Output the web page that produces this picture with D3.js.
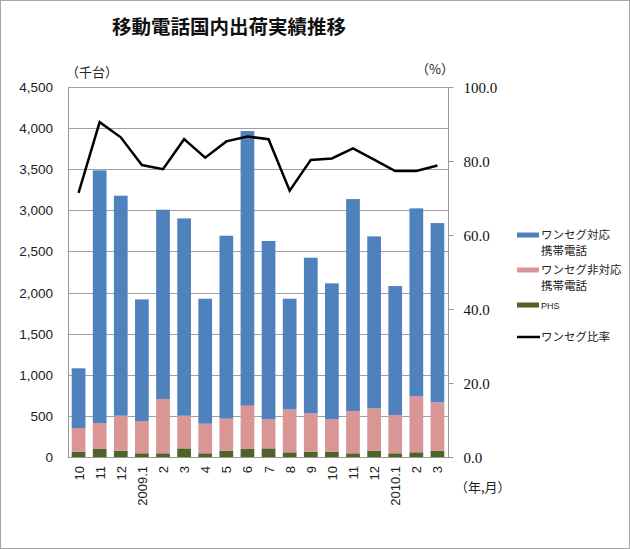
<!DOCTYPE html>
<html><head><meta charset="utf-8">
<script src="https://cdn.jsdelivr.net/npm/d3@7"></script>
<style>body{margin:0;background:#fff}svg{display:block}</style>
</head><body>
<svg id="c" width="630" height="549"></svg>
<script>
const categories = ["10","11","12","2009.1","2","3","4","5","6","7","8","9","10","11","12","2010.1","2","3"];
const phs      = [65, 97, 77, 45, 45,105, 45, 77, 97,105, 57, 65, 65, 45, 77, 45, 57, 77];
const nonOneSeg= [288,316,425,393,660,397,360,389,527,353,523,466,393,514,515,466,681,588];
const oneSeg   = [726,3073,2676,1479,2302,2400,1520,2225,3340,2169,1345,1893,1654,2578,2091,1568,2286,2180];
const ratio    = [71.4,90.5,86.4,78.9,77.8,85.9,80.9,85.3,86.6,85.9,72.0,80.3,80.7,83.4,80.4,77.3,77.3,78.8];
const leftTicks = [0,500,1000,1500,2000,2500,3000,3500,4000,4500];
const rightTicks = [0,20,40,60,80,100];
const seriesNames = ["ワンセグ対応\n携帯電話","ワンセグ非対応\n携帯電話","PHS"];
const lineName = "ワンセグ比率";
const colors = {oneSeg:"#4F81BD", non:"#D99694", phs:"#4F6228"};

const svg = d3.select("#c");
const L=68, R=448, T=87, B=457;
svg.append("rect").attr("x",0.5).attr("y",0.5).attr("width",629).attr("height",548)
  .attr("fill","#fff").attr("stroke","#a6a6a6");

svg.append("text").attr("x",229).attr("y",34).attr("text-anchor","middle")
  .attr("font-family","Noto Sans CJK JP").attr("font-weight","bold").attr("font-size",19.5)
  .attr("fill","#111").text("移動電話国内出荷実績推移");

const x = d3.scaleBand().domain(d3.range(categories.length)).range([L,R]).paddingInner(0.35).paddingOuter(0.175);
const y = d3.scaleLinear().domain([0,4500]).range([B,T]);
const y2 = d3.scaleLinear().domain([0,100]).range([B,T]);

// gridlines
svg.append("g").selectAll("line").data(leftTicks.filter(d=>d>0)).join("line")
  .attr("x1",L).attr("x2",R).attr("y1",d=>Math.round(y(d))+0.5).attr("y2",d=>Math.round(y(d))+0.5)
  .attr("stroke","#a0a0a0").attr("stroke-width",1);

// stacked bars
const rows = categories.map((c,i)=>({i, phs:phs[i], non:nonOneSeg[i], one:oneSeg[i]}));
const stack = d3.stack().keys(["phs","non","one"])(rows);
const fillFor = {phs:colors.phs, non:colors.non, one:colors.oneSeg};
svg.append("g").selectAll("g").data(stack).join("g").attr("fill",d=>fillFor[d.key])
  .selectAll("rect").data(d=>d).join("rect")
  .attr("x",d=>x(d.data.i)).attr("width",x.bandwidth())
  .attr("y",d=>y(d[1])).attr("height",d=>y(d[0])-y(d[1]));

// axes lines
svg.append("line").attr("x1",L+0.5).attr("x2",L+0.5).attr("y1",T).attr("y2",B).attr("stroke","#999");
svg.append("line").attr("x1",R+0.5).attr("x2",R+0.5).attr("y1",T).attr("y2",B).attr("stroke","#999");
svg.append("line").attr("x1",L).attr("x2",R+1).attr("y1",B+0.5).attr("y2",B+0.5).attr("stroke","#999");

// left axis labels
const fmt = d3.format(",");
svg.append("g").selectAll("text").data(leftTicks).join("text")
  .attr("x",53).attr("y",d=>y(d)+5).attr("text-anchor","end")
  .attr("font-family","Liberation Sans, Arial").attr("font-size",13.5).attr("fill","#222")
  .text(d=>fmt(d));

// right axis
const ra = d3.axisRight(y2).tickValues(rightTicks).tickSize(5).tickFormat(d3.format(".1f"));
const rg = svg.append("g").attr("transform",`translate(${R+0.5},0)`).call(ra);
rg.select(".domain").remove();
rg.selectAll("line").attr("stroke","#999");
rg.selectAll("text").attr("x",15).attr("dy","0.35em")
  .attr("font-family","Liberation Serif, Times New Roman").attr("font-size",15).attr("fill","#111");

// x labels
svg.append("g").selectAll("text").data(categories).join("text")
  .attr("transform",(d,i)=>`translate(${x(i)+x.bandwidth()/2+5},466) rotate(-90)`)
  .attr("text-anchor","end")
  .attr("font-family","Liberation Sans, Arial").attr("font-size",13).attr("fill","#222")
  .text(d=>d);

// line
const line = d3.line().x((d,i)=>x(i)+x.bandwidth()/2).y(d=>y2(d));
svg.append("path").datum(ratio).attr("d",line).attr("fill","none")
  .attr("stroke","#000").attr("stroke-width",2.5).attr("stroke-linejoin","miter");

// unit labels
const jp = "Noto Sans CJK JP";
svg.append("text").attr("x",66).attr("y",77).attr("font-family",jp).attr("font-size",13).attr("fill","#222").text("（千台）");
svg.append("text").attr("x",416).attr("y",74).attr("font-family",jp).attr("font-size",13).attr("fill","#222").text("（%）");
svg.append("text").attr("x",455).attr("y",492).attr("font-family",jp).attr("font-size",13).attr("fill","#222").text("（年,月）");

// legend
const lg = svg.append("g").attr("font-family",jp).attr("font-size",11.5).attr("fill","#222");
const legendY = [235, 270, 305];
const legendColors = [colors.oneSeg, colors.non, colors.phs];
seriesNames.forEach((n,k)=>{
  lg.append("rect").attr("x",517).attr("y",legendY[k]-2.5).attr("width",22).attr("height",5).attr("fill",legendColors[k]);
  n.split("\n").forEach((t,j)=>{
    lg.append("text").attr("x",541).attr("y",legendY[k]+4+j*16)
      .attr("font-size",t==="PHS"?9:11.5).attr("font-family",t==="PHS"?"Liberation Sans":jp).text(t);
  });
});
lg.append("line").attr("x1",517).attr("x2",540).attr("y1",337).attr("y2",337).attr("stroke","#000").attr("stroke-width",2.5);
lg.append("text").attr("x",541).attr("y",341).text(lineName);
</script>
</body></html>
